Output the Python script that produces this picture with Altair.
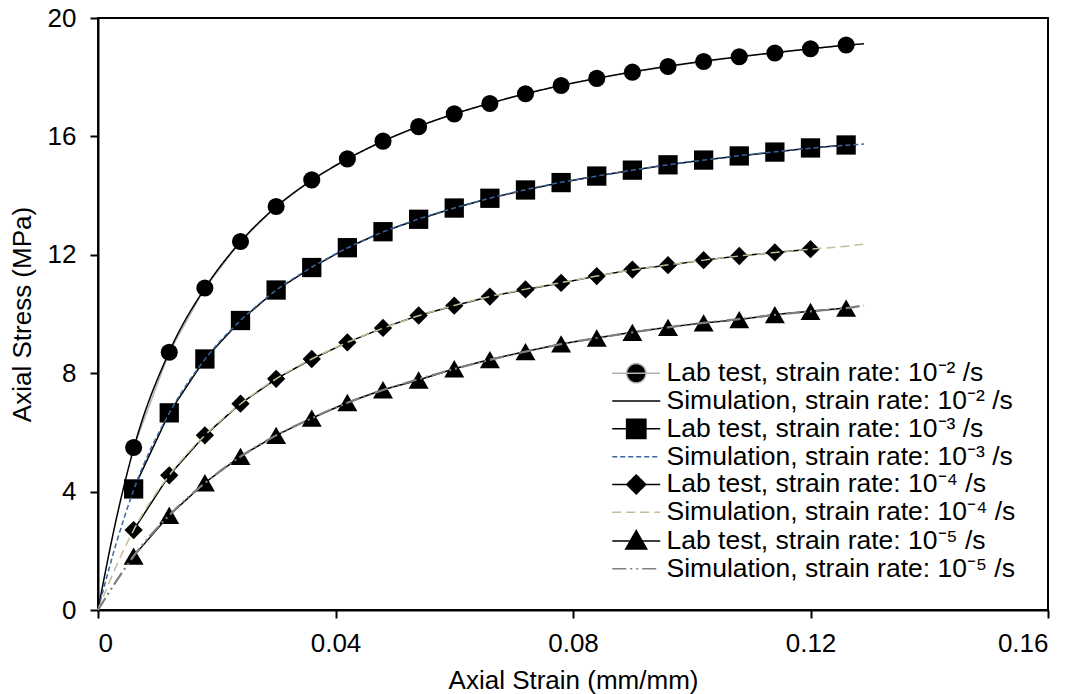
import altair as alt
import pandas as pd

FONT = "Liberation Sans"

# ---------------- data ----------------
strain_lab = [0.006, 0.012, 0.018, 0.024, 0.030, 0.036, 0.042, 0.048, 0.054, 0.060,
              0.066, 0.072, 0.078, 0.084, 0.090, 0.096, 0.102, 0.108, 0.114, 0.120, 0.126]

lab_1e2 = [5.49, 8.71, 10.88, 12.45, 13.63, 14.53, 15.24, 15.84, 16.33, 16.76,
           17.11, 17.44, 17.72, 17.96, 18.17, 18.36, 18.53, 18.69, 18.82, 18.96, 19.09]
lab_1e3 = [4.09, 6.66, 8.48, 9.78, 10.81, 11.57, 12.24, 12.78, 13.20, 13.58,
           13.91, 14.19, 14.44, 14.66, 14.86, 15.04, 15.20, 15.34, 15.47, 15.61, 15.71]
lab_1e4 = [2.70, 4.55, 5.90, 6.97, 7.81, 8.48, 9.04, 9.53, 9.95, 10.28,
           10.59, 10.83, 11.05, 11.28, 11.50, 11.65, 11.82, 11.96, 12.08, 12.19]
lab_1e5 = [1.82, 3.20, 4.30, 5.19, 5.90, 6.48, 7.01, 7.44, 7.77, 8.15,
           8.46, 8.73, 8.99, 9.19, 9.38, 9.55, 9.70, 9.81, 9.98, 10.09, 10.20]

strain_sim = [0.0, 0.003, 0.006, 0.012, 0.018, 0.024, 0.030, 0.036, 0.042, 0.048, 0.054,
              0.060, 0.066, 0.072, 0.078, 0.084, 0.090, 0.096, 0.102, 0.108, 0.114,
              0.120, 0.126, 0.129]
sim_1e2 = [0.0, 3.00, 5.45, 8.72, 10.87, 12.44, 13.62, 14.52, 15.24, 15.84, 16.34,
           16.76, 17.12, 17.44, 17.72, 17.96, 18.18, 18.37, 18.54, 18.69, 18.83,
           18.96, 19.08, 19.13]
sim_1e3 = [0.0, 2.20, 4.05, 6.65, 8.47, 9.78, 10.80, 11.58, 12.23, 12.77, 13.21,
           13.58, 13.91, 14.20, 14.45, 14.66, 14.86, 15.04, 15.20, 15.35, 15.48,
           15.60, 15.70, 15.74]
sim_1e4 = [0.0, 1.45, 2.70, 4.55, 5.90, 6.96, 7.81, 8.48, 9.04, 9.52, 9.94,
           10.29, 10.59, 10.84, 11.06, 11.28, 11.49, 11.66, 11.82, 11.96, 12.08,
           12.19, 12.29, 12.36]
sim_1e5 = [0.0, 0.95, 1.82, 3.20, 4.29, 5.18, 5.90, 6.48, 7.00, 7.43, 7.80,
           8.14, 8.45, 8.73, 8.98, 9.19, 9.38, 9.55, 9.70, 9.83, 9.97,
           10.09, 10.20, 10.29]

labels = [
    "Lab test, strain rate: 10⁻² /s",
    "Simulation, strain rate: 10⁻² /s",
    "Lab test, strain rate: 10⁻³ /s",
    "Simulation, strain rate: 10⁻³ /s",
    "Lab test, strain rate: 10⁻⁴ /s",
    "Simulation, strain rate: 10⁻⁴ /s",
    "Lab test, strain rate: 10⁻⁵ /s",
    "Simulation, strain rate: 10⁻⁵ /s",
]

x_ticks = [0, 0.04, 0.08, 0.12, 0.16]
y_ticks = [0, 4, 8, 12, 16, 20]

# ---------------- styles ----------------
lab_shapes = ["circle", "square", "diamond", "triangle-up"]
lab_sizes = [292, 372, 335, 400]
lab_line_colors = ["#b3b3b3", "#000000", "#000000", "#000000"]
sim_colors = ["#000000", "#3b64a0", "#c4bd97", "#7f7f7f"]
sim_dashes = [[1, 0], [5, 3], [9, 5], [14, 4, 2, 4, 2, 4]]
sim_widths = [1.5, 1.5, 1.5, 2.2]

# legend symbols: symbol size 100 -> 1 unit = 5 px
legend_paths = [
    "M-4.8,0H4.8M1.93,0A1.93,1.93,0,1,1,-1.93,0A1.93,1.93,0,1,1,1.93,0Z",
    "M-4.8,0H4.8",
    "M-4.8,0H4.8M-1.93,-1.93H1.93V1.93H-1.93Z",
    "M-4.8,0H4.8",
    "M-4.8,0H4.8M0,-1.9L1.9,0L0,1.9L-1.9,0Z",
    "M-4.8,0H4.8",
    "M-4.8,0H4.8M0,-2.1L2.1,1.6L-2.1,1.6Z",
    "M-4.8,0H4.8",
]
legend_fill = ["#000000", "transparent", "#000000", "transparent",
               "#000000", "transparent", "#000000", "transparent"]
legend_stroke = [lab_line_colors[0], sim_colors[0], lab_line_colors[1], sim_colors[1],
                 lab_line_colors[2], sim_colors[2], lab_line_colors[3], sim_colors[3]]
legend_dash = [[1, 0], sim_dashes[0], [1, 0], sim_dashes[1],
               [1, 0], sim_dashes[2], [1, 0], sim_dashes[3]]

# ---------------- tables ----------------
rows = []
for lab, vals in zip([labels[0], labels[2], labels[4], labels[6]],
                     [lab_1e2, lab_1e3, lab_1e4, lab_1e5]):
    for s, v in zip(strain_lab, vals):
        rows.append({"series": lab, "strain": s, "stress": v})
for sim, vals in zip([labels[1], labels[3], labels[5], labels[7]],
                     [sim_1e2, sim_1e3, sim_1e4, sim_1e5]):
    for s, v in zip(strain_sim, vals):
        rows.append({"series": sim, "strain": s, "stress": v})
df = pd.DataFrame(rows)

x_enc = alt.X("strain:Q",
              scale=alt.Scale(domain=[0, 0.16], nice=False, zero=True),
              axis=alt.Axis(values=x_ticks, title="Axial Strain (mm/mm)",
                            labelExpr="datum.value == 0 ? '0' : format(datum.value, '.2f')",
                            grid=False, tickSize=8, labelPadding=12, titlePadding=11))
y_enc = alt.Y("stress:Q",
              scale=alt.Scale(domain=[0, 20], nice=False),
              axis=alt.Axis(values=y_ticks, title="Axial Stress (MPa)",
                            grid=False, tickSize=8, labelPadding=14, titlePadding=12))

base = alt.Chart(df)
layers = []
for i in range(4):
    lab = labels[2 * i]
    sim = labels[2 * i + 1]
    layers.append(
        base.transform_filter(alt.datum.series == lab)
        .mark_line(color=lab_line_colors[i], strokeWidth=1.5)
        .encode(x=x_enc, y=y_enc)
    )
    layers.append(
        base.transform_filter(alt.datum.series == lab)
        .mark_point(shape=lab_shapes[i], size=lab_sizes[i], filled=True,
                    color="#000000", opacity=1)
        .encode(x=x_enc, y=y_enc)
    )
    layers.append(
        base.transform_filter(alt.datum.series == sim)
        .mark_line(color=sim_colors[i], strokeDash=sim_dashes[i],
                   strokeWidth=sim_widths[i], interpolate="monotone")
        .encode(x=x_enc, y=y_enc)
    )

legend_df = pd.DataFrame({"series": labels})
leg = alt.Legend(title=None, orient="none", legendX=525, legendY=342,
                 labelFont=FONT, labelFontSize=26.5, labelColor="#000000",
                 labelLimit=600, labelOffset=17, rowPadding=0.8,
                 symbolStrokeWidth=1.5, symbolSize=100, padding=0)
legend_layer = (
    alt.Chart(legend_df)
    .transform_filter("false")
    .mark_point(filled=True, opacity=1)
    .encode(
        shape=alt.Shape("series:N", scale=alt.Scale(domain=labels, range=legend_paths), legend=leg),
        fill=alt.Fill("series:N", scale=alt.Scale(domain=labels, range=legend_fill), legend=leg),
        stroke=alt.Stroke("series:N", scale=alt.Scale(domain=labels, range=legend_stroke), legend=leg),
        strokeDash=alt.StrokeDash("series:N", scale=alt.Scale(domain=labels, range=legend_dash), legend=leg),
    )
)
layers.append(legend_layer)

chart = (
    alt.layer(*layers)
    .properties(width=950, height=592,
                autosize=alt.AutoSizeParams(type="none"),
                padding={"left": 90, "top": 10, "right": 20, "bottom": 84})
    .configure(font=FONT)
    .configure_view(stroke="#000000", strokeWidth=2)
    .configure_axis(domainColor="#000000", domainWidth=2, tickColor="#000000", tickWidth=2,
                    labelFont=FONT, labelFontSize=26, labelColor="#000000",
                    titleFont=FONT, titleFontSize=26, titleFontWeight="normal",
                    titleColor="#000000")
)

chart.save("out.html", embed_options={"renderer": "svg", "actions": False})
